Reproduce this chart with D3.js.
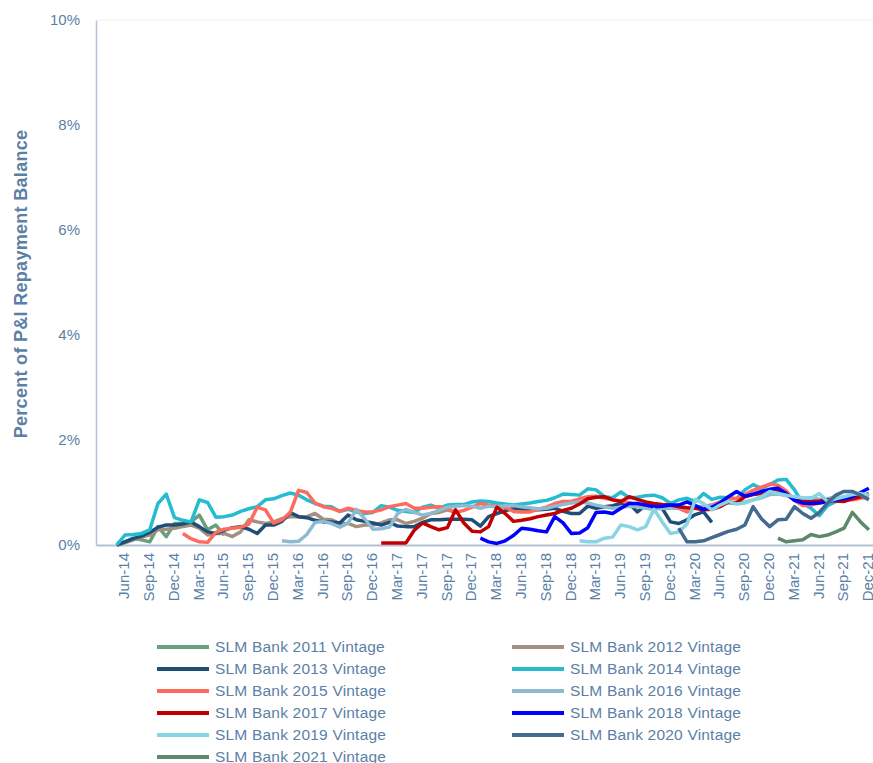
<!DOCTYPE html>
<html>
<head>
<meta charset="utf-8">
<script src="https://cdn.jsdelivr.net/npm/d3@7"></script>
<style>
  body { margin: 0; background: #fff; }
  text { font-family: "Liberation Sans", Arial, sans-serif; fill: #5b7fa6; }
</style>
</head>
<body>
<svg id="chart" width="873" height="763"></svg>
<script>
// months on the category axis, Mar-14 .. Dec-21
var months = d3.timeMonths(new Date(2014, 2, 1), new Date(2022, 0, 1)).map(d3.timeFormat("%b-%y"));

var tickLabels = ["Jun-14","Sep-14","Dec-14","Mar-15","Jun-15","Sep-15","Dec-15","Mar-16","Jun-16","Sep-16",
    "Dec-16","Mar-17","Jun-17","Sep-17","Dec-17","Mar-18","Jun-18","Sep-18","Dec-18","Mar-19","Jun-19",
    "Sep-19","Dec-19","Mar-20","Jun-20","Sep-20","Dec-20","Mar-21","Jun-21","Sep-21","Dec-21"];
var yTicks = [0, 2, 4, 6, 8, 10];

var seriesNames = ["SLM Bank 2011 Vintage","SLM Bank 2012 Vintage","SLM Bank 2013 Vintage","SLM Bank 2014 Vintage",
    "SLM Bank 2015 Vintage","SLM Bank 2016 Vintage","SLM Bank 2017 Vintage","SLM Bank 2018 Vintage",
    "SLM Bank 2019 Vintage","SLM Bank 2020 Vintage","SLM Bank 2021 Vintage"];
var seriesStart = ["May-14","May-14","May-14","May-14","Jan-15","Jan-16","Jan-17","Jan-18","Jan-19","Jan-20","Jan-21"];

// percent of P&I repayment balance, monthly
var v2011 = [0,0.06,0.13,0.1,0.06,0.35,0.16,0.41,0.41,0.44,0.57,0.29,0.38,0.19];
var v2012 = [0,0.04,0.1,0.15,0.19,0.29,0.3,0.32,0.35,0.38,0.32,0.19,0.22,0.22,0.16,0.25,0.48,0.44,0.41,0.44,
    0.5,0.54,0.54,0.54,0.6,0.49,0.48,0.41,0.41,0.35,0.38,0.38,0.42,0.48,0.48,0.41,0.45,0.51,0.6,0.62,0.67,0.62];
var v2013 = [0,0.06,0.12,0.17,0.24,0.34,0.38,0.38,0.4,0.44,0.35,0.25,0.22,0.28,0.33,0.35,0.3,0.22,0.38,0.38,
    0.45,0.62,0.54,0.52,0.47,0.44,0.44,0.42,0.57,0.48,0.45,0.42,0.38,0.43,0.36,0.35,0.35,0.43,0.48,0.48,
    0.49,0.49,0.49,0.48,0.36,0.54,0.6,0.65,0.7,0.68,0.67,0.67,0.68,0.7,0.64,0.6,0.6,0.74,0.7,0.73,
    0.75,0.79,0.79,0.63,0.76,0.73,0.7,0.44,0.41,0.48,0.58,0.63,0.43];
var v2014 = [0,0.19,0.2,0.22,0.29,0.79,0.97,0.52,0.47,0.44,0.86,0.81,0.53,0.54,0.57,0.64,0.69,0.73,0.86,0.88,
    0.94,0.99,0.95,0.86,0.79,0.74,0.73,0.64,0.68,0.63,0.6,0.62,0.75,0.72,0.66,0.64,0.62,0.72,0.76,0.7,
    0.76,0.77,0.77,0.82,0.84,0.83,0.8,0.78,0.76,0.78,0.8,0.83,0.85,0.9,0.97,0.96,0.95,1.07,1.05,0.92,
    0.9,1.01,0.9,0.91,0.94,0.95,0.9,0.79,0.86,0.89,0.83,0.98,0.87,0.91,0.9,0.88,1.05,1.15,1.08,1.15,
    1.24,1.25,1.05,0.79,0.7,0.56,0.75,0.83,0.86,0.9,0.93,0.95];
var v2015 = [0.22,0.12,0.06,0.05,0.24,0.3,0.32,0.34,0.4,0.72,0.67,0.42,0.48,0.62,1.04,1.0,0.8,0.73,0.7,0.64,
    0.7,0.66,0.63,0.63,0.67,0.73,0.76,0.79,0.7,0.7,0.72,0.73,0.7,0.62,0.66,0.72,0.79,0.76,0.74,0.72,
    0.64,0.63,0.63,0.68,0.72,0.79,0.83,0.83,0.88,0.92,0.93,0.89,0.86,0.84,0.8,0.77,0.75,0.73,0.72,0.71,
    0.7,0.63,0.72,0.74,0.76,0.82,0.9,0.88,0.96,1.04,1.1,1.16,1.14,1.03,0.85,0.75,0.76,0.8,0.83,0.85,
    0.86,0.86,0.89,0.92];
var v2016 = [0.08,0.06,0.07,0.2,0.43,0.45,0.41,0.34,0.42,0.68,0.5,0.3,0.31,0.34,0.6,0.68,0.62,0.57,0.6,0.66,
    0.72,0.74,0.75,0.74,0.7,0.74,0.73,0.75,0.75,0.73,0.71,0.69,0.7,0.74,0.77,0.8,0.82,0.8,0.76,0.73,
    0.7,0.72,0.74,0.73,0.7,0.68,0.7,0.7,0.72,0.7,0.74,0.72,0.75,0.78,0.8,0.79,0.82,0.86,0.9,0.96,
    0.97,0.94,0.9,0.88,0.9,0.87,0.88,0.92,0.9,0.93,0.94,0.96];
var v2017 = [0.04,0.04,0.04,0.04,0.28,0.42,0.35,0.29,0.33,0.67,0.42,0.26,0.25,0.35,0.72,0.6,0.45,0.47,0.5,0.54,
    0.57,0.6,0.66,0.7,0.78,0.88,0.91,0.92,0.86,0.83,0.92,0.87,0.82,0.79,0.77,0.76,0.73,0.71,0.7,0.67,
    0.68,0.73,0.82,0.8,0.92,0.96,0.98,1.02,1.05,0.98,0.86,0.83,0.83,0.84,0.86,0.84,0.83,0.88,0.92,0.98];
var v2018 = [0.13,0.06,0.03,0.08,0.18,0.32,0.3,0.27,0.25,0.54,0.42,0.22,0.23,0.33,0.62,0.63,0.6,0.7,0.79,0.79,
    0.76,0.73,0.74,0.76,0.76,0.82,0.75,0.68,0.72,0.8,0.92,1.02,0.93,0.97,1.02,1.06,1.08,0.98,0.85,0.8,
    0.79,0.8,0.83,0.86,0.88,0.92,1.0,1.08];
var v2019 = [0.08,0.06,0.06,0.13,0.15,0.38,0.35,0.29,0.35,0.68,0.44,0.22,0.25,0.4,0.87,0.79,0.67,0.76,0.83,0.78,
    0.8,0.86,0.92,1.02,0.98,0.95,0.92,0.9,0.89,0.98,0.83,0.88,0.92,0.96,0.98,0.95];
var v2020 = [0.32,0.06,0.06,0.08,0.14,0.2,0.26,0.3,0.38,0.73,0.5,0.35,0.48,0.49,0.73,0.6,0.51,0.62,0.8,0.95,
    1.02,1.02,0.95,0.86];
var v2021 = [0.13,0.06,0.08,0.1,0.2,0.16,0.19,0.25,0.32,0.62,0.44,0.29];

var seriesValues = [v2011, v2012, v2013, v2014, v2015, v2016, v2017, v2018, v2019, v2020, v2021];
var colors = ["#6b9e7e","#a3907e","#1f4e79","#26bcd0","#ff6a5f","#8dbcd2","#c00000","#0000ff","#86d4e4","#456a8f","#5a8a6a"];

var svg = d3.select("#chart");
var x = d3.scaleBand().domain(months).range([96, 873]);
var y = d3.scaleLinear().domain([0, 10]).range([545, 20]);
var cx = function(m) { return x(m) + x.bandwidth() / 2; };

// axes
var yAxis = svg.append("g").attr("transform", "translate(96,0)")
    .call(d3.axisLeft(y).tickValues(yTicks).tickSize(0).tickPadding(16).tickFormat(function(d) { return d + "%"; }));
yAxis.select(".domain").attr("stroke", "#b4c0d3").attr("stroke-width", 1.5);
yAxis.selectAll("text").style("font-size", "15px").attr("fill", "#5b7fa6");

svg.append("line").attr("x1", 96).attr("x2", 873).attr("y1", 20).attr("y2", 20)
    .attr("stroke", "#f0f0f0").attr("stroke-width", 1);

var xAxis = svg.append("g").attr("transform", "translate(0,545)")
    .call(d3.axisBottom(x).tickValues(tickLabels).tickSize(0));
xAxis.select(".domain").attr("stroke", "#b4c0d3").attr("stroke-width", 2);
xAxis.selectAll("text")
    .style("font-size", "15px")
    .attr("fill", "#5b7fa6")
    .attr("text-anchor", "end")
    .attr("transform", "translate(-1,8) rotate(-90)")
    .attr("x", 0).attr("y", 0).attr("dy", "0.35em");

svg.append("text")
    .attr("transform", "translate(27,284) rotate(-90)")
    .attr("text-anchor", "middle")
    .style("font-size", "18px")
    .style("font-weight", "bold")
    .style("letter-spacing", "0.3px")
    .text("Percent of P&I Repayment  Balance");

// lines
var line = d3.line()
    .x(function(d) { return cx(d.m); })
    .y(function(d) { return y(d.v); });

seriesValues.forEach(function(vals, i) {
    var i0 = months.indexOf(seriesStart[i]);
    var pts = vals.map(function(v, j) { return { m: months[i0 + j], v: v }; });
    svg.append("path")
        .datum(pts)
        .attr("fill", "none")
        .attr("stroke", colors[i])
        .attr("stroke-width", 3.5)
        .attr("stroke-linejoin", "round")
        .attr("d", line);
});

// legend
var legend = svg.append("g").selectAll("g")
    .data(seriesNames)
    .enter().append("g")
    .attr("transform", function(d, i) {
        return "translate(" + (i % 2 ? 512 : 157) + "," + (647 + Math.floor(i / 2) * 22) + ")";
    });
legend.append("line")
    .attr("x1", 0).attr("x2", 52)
    .attr("stroke", function(d, i) { return colors[i]; })
    .attr("stroke-width", 4);
legend.append("text")
    .attr("x", 58).attr("dy", "0.35em")
    .style("font-size", "15.5px")
    .style("letter-spacing", "0.2px")
    .text(function(d) { return d; });
</script>
</body>
</html>
